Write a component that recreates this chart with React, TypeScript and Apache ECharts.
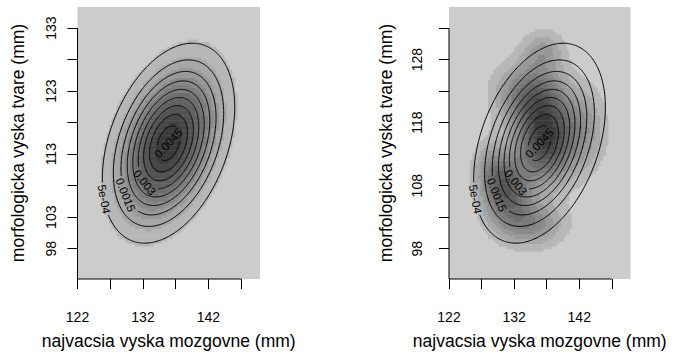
import React, { useEffect, useRef } from "react";
import * as echarts from "echarts";

// ---------- data ----------
const xTitle = "najvacsia vyska mozgovne (mm)";
const yTitle = "morfologicka vyska tvare (mm)";
const xRange = [122, 149.87];
const yRange = [93.2, 136.36];
const xTicks = [122, 127, 132, 137, 142, 147];
const xTickLabels = [122, 132, 142];
const yTicks = [98, 103, 108, 113, 118, 123, 128, 133];
const yTickLabelsLeft = [98, 103, 113, 123, 133];
const yTickLabelsRight = [98, 108, 118, 128];

// bivariate normal fit (mean, sd, correlation)
const normMean = [135.9, 114.75];
const normSd = [4.75, 7.45];
const normRho = [0.36];

// contour levels and their printed labels
const contourLevels = [0.0005, 0.001, 0.0015, 0.002, 0.0025, 0.003, 0.0035, 0.004, 0.0045];
const contourLabels = ["5e-04", "", "0.0015", "", "", "0.003", "", "", "0.0045"];

// kernel density estimate of the sample (right panel), described as bumps
const kdeX = [137.0, 130.8, 134.5, 134.5, 136.5, 143.0, 128.3];
const kdeY = [115.5, 107.5, 102.0, 122.5, 129.5, 117.0, 111.0];
const kdeSx = [3.0, 2.5, 3.5, 3.5, 2.2, 2.2, 1.8];
const kdeSy = [4.5, 3.5, 2.5, 3.5, 2.2, 4.5, 3.0];
const kdeW = [1.0, 0.75, 0.45, 0.6, 0.3, 0.3, 0.25];

// ---------- helpers ----------
const FONT = "'Liberation Sans', Arial, Helvetica, sans-serif";
const NB = 11;
const STEP = 0.4;
const BG = "#cccccc";

const sx = normSd[0];
const sy = normSd[1];
const rho = normRho[0];
const sq = Math.sqrt(1 - rho * rho);
const peak = 1 / (2 * Math.PI * sx * sy * sq);

function normalDensity(x: number, y: number) {
  const zx = (x - normMean[0]) / sx;
  const zy = (y - normMean[1]) / sy;
  const q = (zx * zx - 2 * rho * zx * zy + zy * zy) / (1 - rho * rho);
  return peak * Math.exp(-q / 2);
}

function kdeDensity(x: number, y: number) {
  let s = 0;
  for (let i = 0; i < kdeX.length; i++) {
    const dx = (x - kdeX[i]) / kdeSx[i];
    const dy = (y - kdeY[i]) / kdeSy[i];
    s += kdeW[i] * Math.exp(-(dx * dx + dy * dy) / 2);
  }
  return s;
}

function ellipsePoint(level: number, t: number) {
  const r = Math.sqrt(2 * Math.log(peak / level));
  return [
    normMean[0] + sx * r * Math.cos(t),
    normMean[1] + sy * r * (rho * Math.cos(t) + sq * Math.sin(t)),
  ];
}

function grayOf(bin: number) {
  const g = Math.round(204 - 146 * Math.pow(bin / (NB - 1), 0.85));
  return `rgb(${g},${g},${g})`;
}

// run-length encoded image cells: [x0, x1, y0, y1, bin]
function buildRuns(fn: (x: number, y: number) => number) {
  const nx = Math.ceil((xRange[1] - xRange[0]) / STEP);
  const ny = Math.ceil((yRange[1] - yRange[0]) / STEP);
  const vals: number[][] = [];
  let max = 0;
  for (let j = 0; j < ny; j++) {
    const row: number[] = [];
    for (let i = 0; i < nx; i++) {
      const v = fn(xRange[0] + (i + 0.5) * STEP, yRange[0] + (j + 0.5) * STEP);
      row.push(v);
      if (v > max) max = v;
    }
    vals.push(row);
  }
  const binOf = (v: number) => Math.min(NB - 1, Math.floor((v / max) * NB));
  const runs: number[][] = [];
  for (let j = 0; j < ny; j++) {
    let i = 0;
    while (i < nx) {
      const b = binOf(vals[j][i]);
      let k = i + 1;
      while (k < nx && binOf(vals[j][k]) === b) k++;
      if (b > 0) {
        runs.push([
          xRange[0] + i * STEP,
          Math.min(xRange[1], xRange[0] + k * STEP),
          yRange[0] + j * STEP,
          Math.min(yRange[1], yRange[0] + (j + 1) * STEP),
          b,
        ]);
      }
      i = k;
    }
  }
  return runs;
}

const labelFont = 11.5;
function textWidth(s: string) {
  let w = 0;
  for (const c of s) {
    if (c === ".") w += 0.278;
    else if (c === "-") w += 0.333;
    else w += 0.556;
  }
  return w * labelFont;
}

// where along each labelled contour its label sits (ellipse angle, degrees)
const labelAngle: Record<number, { t: number; center?: boolean }> = {
  0: { t: 193 },
  2: { t: 205 },
  5: { t: 218 },
  8: { t: 110, center: true },
};

function renderImage(params: any, api: any) {
  const p0 = api.coord([api.value(0), api.value(3)]);
  const p1 = api.coord([api.value(1), api.value(2)]);
  return {
    type: "rect",
    shape: { x: p0[0], y: p0[1], width: p1[0] - p0[0] + 0.4, height: p1[1] - p0[1] + 0.4 },
    style: { fill: grayOf(api.value(4)) },
  };
}

function renderContour(params: any, api: any) {
  const idx = api.value(0);
  const level = contourLevels[idx];
  const N = 360;
  const pts: number[][] = [];
  for (let k = 0; k < N; k++) {
    pts.push(api.coord(ellipsePoint(level, (2 * Math.PI * k) / N)));
  }
  const hide = new Array(N).fill(false);
  const children: any[] = [];
  const lbl = contourLabels[idx];
  if (lbl) {
    const spec = labelAngle[idx];
    const t = (spec.t * Math.PI) / 180;
    const pc = api.coord(spec.center ? normMean : ellipsePoint(level, t));
    const a = api.coord(ellipsePoint(level, t - 0.01));
    const b = api.coord(ellipsePoint(level, t + 0.01));
    let dx = b[0] - a[0];
    let dy = b[1] - a[1];
    if (dx < 0) {
      dx = -dx;
      dy = -dy;
    }
    const len = Math.hypot(dx, dy) || 1;
    const ux = dx / len;
    const uy = dy / len;
    const w = textWidth(lbl);
    for (let k = 0; k < N; k++) {
      const ex = pts[k][0] - pc[0];
      const ey = pts[k][1] - pc[1];
      const along = ex * ux + ey * uy;
      const perp = -ex * uy + ey * ux;
      if (Math.abs(along) < w / 2 + 1.5 && Math.abs(perp) < labelFont * 0.55) hide[k] = true;
    }
    children.push({
      type: "text",
      x: pc[0],
      y: pc[1],
      rotation: -Math.atan2(uy, ux),
      style: {
        text: lbl,
        fontSize: labelFont,
        fontFamily: FONT,
        fill: "#000",
        align: "center",
        verticalAlign: "middle",
      },
      z2: 5,
    });
  }
  const lineStyle = { stroke: "#000", lineWidth: 1, fill: "none" };
  const start = hide.indexOf(true);
  if (start < 0) {
    children.push({ type: "polyline", shape: { points: pts.concat([pts[0]]) }, style: lineStyle });
  } else {
    let seg: number[][] = [];
    for (let m = 1; m <= N; m++) {
      const k = (start + m) % N;
      if (!hide[k]) seg.push(pts[k]);
      else if (seg.length) {
        if (seg.length > 1) children.push({ type: "polyline", shape: { points: seg }, style: lineStyle });
        seg = [];
      }
    }
    if (seg.length > 1) children.push({ type: "polyline", shape: { points: seg }, style: lineStyle });
  }
  return { type: "group", children };
}

function renderAxes(params: any, api: any) {
  const yb = api.coord([xRange[0], yRange[0]]);
  const yt = api.coord([xRange[0], yTicks[yTicks.length - 1]]);
  const xa = api.coord([xTicks[0], yRange[0]]);
  const xb = api.coord([xTicks[xTicks.length - 1], yRange[0]]);
  const st = { stroke: "#000", lineWidth: 1 };
  return {
    type: "group",
    children: [
      { type: "line", shape: { x1: yb[0], y1: yb[1], x2: yt[0], y2: yt[1] }, style: st },
      { type: "line", shape: { x1: xa[0], y1: xa[1], x2: xb[0], y2: xb[1] }, style: st },
    ],
  };
}

function buildOption() {
  const grids = [
    { left: 77.5, top: 7, width: 182.5, height: 282.5 },
    { left: 449, top: 7, width: 181.5, height: 282.5 },
  ].map((g) => ({ ...g, show: true, backgroundColor: BG, borderWidth: 0 }));

  const xAxes = [0, 1].map((i) => ({
    type: "value",
    gridIndex: i,
    min: xRange[0],
    max: xRange[1],
    axisLine: { show: false },
    splitLine: { show: false },
    axisTick: { show: true, length: 10, lineStyle: { color: "#000", width: 1 }, customValues: xTicks },
    axisLabel: { customValues: xTickLabels, fontSize: 14, color: "#000", fontFamily: FONT, margin: 31 },
    name: xTitle,
    nameLocation: "middle",
    nameGap: 53,
    nameTextStyle: { fontSize: 17.5, color: "#000", fontFamily: FONT },
  }));

  const yAxes = [0, 1].map((i) => ({
    type: "value",
    gridIndex: i,
    min: yRange[0],
    max: yRange[1],
    axisLine: { show: false },
    splitLine: { show: false },
    axisTick: { show: true, length: 10, lineStyle: { color: "#000", width: 1 }, customValues: yTicks },
    axisLabel: {
      customValues: i === 0 ? yTickLabelsLeft : yTickLabelsRight,
      rotate: 90,
      fontSize: 14,
      color: "#000",
      fontFamily: FONT,
      margin: i === 0 ? 20 : 25,
    },
    name: yTitle,
    nameLocation: "middle",
    nameGap: i === 0 ? 51 : 54,
    nameTextStyle: { fontSize: 17.5, color: "#000", fontFamily: FONT },
  }));

  const levelData = contourLevels.map((lv, i) => [i, lv]);
  const series: any[] = [];
  const images = [buildRuns(normalDensity), buildRuns(kdeDensity)];
  [0, 1].forEach((i) => {
    series.push({
      type: "custom",
      xAxisIndex: i,
      yAxisIndex: i,
      renderItem: renderImage,
      data: images[i],
      silent: true,
      clip: true,
      z: 1,
    });
    series.push({
      type: "custom",
      xAxisIndex: i,
      yAxisIndex: i,
      renderItem: renderContour,
      data: levelData,
      silent: true,
      clip: true,
      z: 2,
    });
    series.push({
      type: "custom",
      xAxisIndex: i,
      yAxisIndex: i,
      renderItem: renderAxes,
      data: [[0, 0]],
      silent: true,
      clip: false,
      z: 3,
    });
  });

  return {
    animation: false,
    backgroundColor: "#ffffff",
    grid: grids,
    xAxis: xAxes,
    yAxis: yAxes,
    series,
  };
}

export default function App() {
  const ref = useRef<HTMLDivElement>(null);
  useEffect(() => {
    const chart = echarts.init(ref.current as HTMLDivElement, null, { renderer: "svg" });
    chart.setOption(buildOption() as any);
    return () => chart.dispose();
  }, []);
  return (
    <div
      ref={ref}
      style={{ position: "fixed", left: 0, top: 0, width: 674, height: 355, background: "#fff" }}
    />
  );
}
